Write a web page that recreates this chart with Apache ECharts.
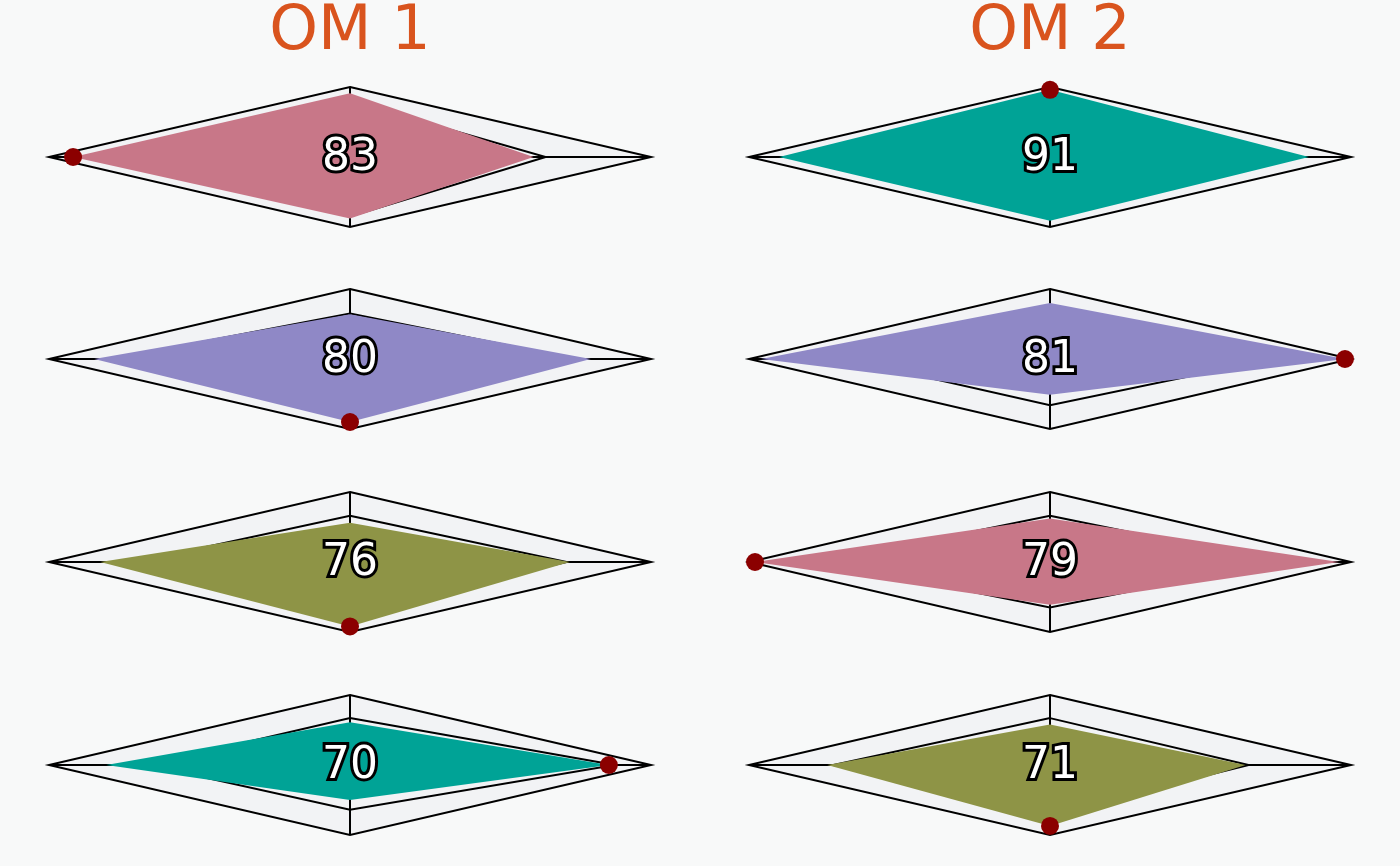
<!DOCTYPE html>
<html>
<head>
<meta charset="utf-8">
<script src="https://cdn.jsdelivr.net/npm/echarts@6/dist/echarts.min.js"></script>
<style>
html, body { margin: 0; padding: 0; background: #f8f9f9; }
#chart { width: 1400px; height: 866px; }
</style>
</head>
<body>
<div id="chart"></div>
<script>
// ---- data ----
// each panel: [top, right, bottom, left] on a 0-100 scale
const columnTitles = ['OM 1', 'OM 2'];
const om1Values = [[91, 61, 88, 92], [64, 80, 90, 85], [56, 73, 92, 83], [61, 86, 50, 81]];
const om2Values = [[96, 86, 91, 90], [80, 98, 51, 96], [62, 96, 61, 98], [58, 65, 87, 74]];
const om1Reference = [[80, 65, 85, 80], [65, 75, 70, 79], [66, 72, 70, 71], [67, 88, 64, 67]];
const om2Reference = [[80, 80, 85, 85], [75, 74, 66, 68], [66, 75, 65, 75], [67, 66, 70, 72]];
const om1Scores = [83, 80, 76, 70];
const om2Scores = [91, 81, 79, 71];
// which vertex carries the marker: 0 top, 1 right, 2 bottom, 3 left
const om1Marker = [3, 2, 2, 1];
const om2Marker = [0, 1, 3, 2];
const axisMax = 100;

// ---- style ----
const PINK = '#c87788', PURPLE = '#8f88c6', OLIVE = '#8e9446', TEAL = '#00a396';
const om1Colors = [PINK, PURPLE, OLIVE, TEAL];
const om2Colors = [TEAL, PURPLE, PINK, OLIVE];
const rowCenters = [157, 359, 562, 765];
const colLefts = [49, 749];
const panelWidth = 602, panelHalfHeight = 70;

const chart = echarts.init(document.getElementById('chart'), null, { renderer: 'canvas' });

const panels = [
  { values: om1Values, refs: om1Reference, scores: om1Scores, marker: om1Marker, colors: om1Colors },
  { values: om2Values, refs: om2Reference, scores: om2Scores, marker: om2Marker, colors: om2Colors }
];

function diamond(api) {
  const t = api.value(0), r = api.value(1), b = api.value(2), l = api.value(3);
  return [api.coord([0, t]), api.coord([r, 0]), api.coord([0, -b]), api.coord([-l, 0])];
}

const grids = [], xAxes = [], yAxes = [], series = [];
const dirs = [[0, 1], [1, 0], [0, -1], [-1, 0]];

panels.forEach((p, c) => {
  p.values.forEach((vals, r) => {
    const gi = grids.length;
    grids.push({ left: colLefts[c], top: rowCenters[r] - panelHalfHeight, width: panelWidth, height: panelHalfHeight * 2 });
    xAxes.push({ gridIndex: gi, type: 'value', min: -axisMax, max: axisMax, show: false });
    yAxes.push({ gridIndex: gi, type: 'value', min: -axisMax, max: axisMax, show: false });
    const base = { type: 'custom', xAxisIndex: gi, yAxisIndex: gi, coordinateSystem: 'cartesian2d', clip: false, silent: true };
    // frame fill + spokes
    series.push(Object.assign({}, base, {
      z: 1,
      data: [[axisMax, axisMax, axisMax, axisMax]],
      renderItem: function (params, api) {
        const pts = diamond(api);
        const ctr = api.coord([0, 0]);
        const children = [{ type: 'polygon', shape: { points: pts }, style: { fill: '#f2f3f5', stroke: null } }];
        pts.forEach(pt => children.push({ type: 'line', shape: { x1: ctr[0], y1: ctr[1], x2: pt[0], y2: pt[1] }, style: { stroke: '#000', lineWidth: 2 } }));
        return { type: 'group', children };
      }
    }));
    // reference polygon outline
    series.push(Object.assign({}, base, {
      z: 2,
      data: [p.refs[r]],
      renderItem: function (params, api) {
        return { type: 'polygon', shape: { points: diamond(api) }, style: { fill: null, stroke: '#000', lineWidth: 2 } };
      }
    }));
    // value polygon
    series.push(Object.assign({}, base, {
      z: 3,
      data: [vals],
      renderItem: function (params, api) {
        return { type: 'polygon', shape: { points: diamond(api) }, style: { fill: p.colors[r], stroke: null } };
      }
    }));
    // frame outline
    series.push(Object.assign({}, base, {
      z: 4,
      data: [[axisMax, axisMax, axisMax, axisMax]],
      renderItem: function (params, api) {
        return { type: 'polygon', shape: { points: diamond(api) }, style: { fill: null, stroke: '#000', lineWidth: 2 } };
      }
    }));
    // marker dot
    const k = p.marker[r];
    series.push({
      type: 'scatter', xAxisIndex: gi, yAxisIndex: gi, z: 5, silent: true,
      symbol: 'circle', symbolSize: 18,
      itemStyle: { color: '#8b0000', opacity: 1 },
      data: [[dirs[k][0] * vals[k], dirs[k][1] * vals[k]]]
    });
    // score label
    series.push(Object.assign({}, base, {
      z: 6,
      data: [[0, 0, p.scores[r]]],
      renderItem: function (params, api) {
        const ctr = api.coord([api.value(0), api.value(1)]);
        const txt = String(api.value(2));
        const font = '44px "DejaVu Sans"';
        const y = ctr[1] + 2;
        return { type: 'group', children: [
          { type: 'text', x: ctr[0], y: y, style: { text: txt, font, fill: '#000', stroke: '#000', lineWidth: 6, lineJoin: 'round', align: 'center', verticalAlign: 'middle' } },
          { type: 'text', x: ctr[0], y: y, style: { text: txt, font, fill: '#fff', align: 'center', verticalAlign: 'middle' } }
        ] };
      }
    }));
  });
});

chart.setOption({
  backgroundColor: '#f8f9f9',
  animation: false,
  graphic: columnTitles.map((t, c) => ({
    type: 'text', x: colLefts[c] + panelWidth / 2, y: 33,
    style: { text: t, font: '62px "DejaVu Sans"', fill: '#d9541e', align: 'center', verticalAlign: 'middle' }
  })),
  grid: grids,
  xAxis: xAxes,
  yAxis: yAxes,
  series
});
</script>
</body>
</html>
